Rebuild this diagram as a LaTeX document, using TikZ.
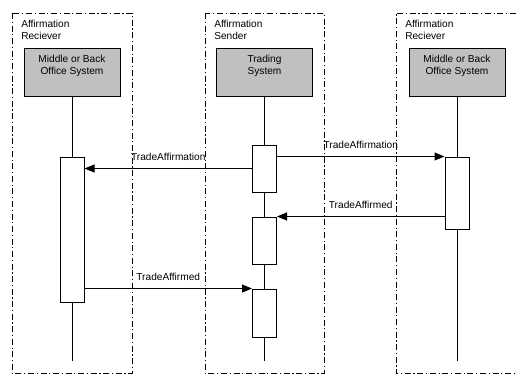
\documentclass[tikz,border=0pt]{standalone}
\usepackage{fontspec}
\setmainfont{Liberation Sans}
\usetikzlibrary{arrows.meta,calc}
\begin{document}
\begin{tikzpicture}[x=0.75pt,y=-0.75pt,
  every node/.style={font=\fontsize{7.6pt}{9pt}\selectfont, inner sep=0pt},
  framebox/.style={draw, line width=0.75pt, dash pattern=on 4.5pt off 2pt on 0.9pt off 2pt},
  sysbox/.style={draw, line width=0.75pt, fill={rgb,255:red,192;green,192;blue,192}, minimum width=72pt, minimum height=36pt},
  actbox/.style={draw, line width=0.75pt, fill=white, minimum width=18pt},
  life/.style={line width=0.75pt},
  msg/.style={line width=0.75pt, -{Triangle[length=7.5pt,width=6pt]}},
  lbl/.style={yshift=9pt},
  flabel/.style={align=left, anchor=north west}]
\useasboundingbox (0,0) rectangle (529,386);
% frames
\draw[framebox] (12,13) rectangle (132,373);
\draw[framebox] (205,13) rectangle (324,373);
\draw[framebox] (516,13) -- (396,13) -- (396,373) -- (516,373);
\node[flabel] (fl1) at (21,20) {Affirmation\\Reciever};
\node[flabel] (fl2) at (214,20) {Affirmation\\Sender};
\node[flabel] (fl3) at (405,20) {Affirmation\\Reciever};
% system boxes
\node[sysbox] (sL) at (72,72) {};
\node[sysbox] (sM) at (264.5,72) {};
\node[sysbox] (sR) at (457,72) {};
\node[align=center, anchor=north] (tL) at (72,55) {Middle or Back\\Office System};
\node[align=center, anchor=north] (tM) at (264.5,55) {Trading\\System};
\node[align=center, anchor=north] (tR) at (457,55) {Middle or Back\\Office System};
% lifeline ends
\coordinate (eL) at (72,361);
\coordinate (eM) at (264.5,361);
\coordinate (eR) at (457,361);
\draw[life] (sL.south) -- (eL);
\draw[life] (sM.south) -- (eM);
\draw[life] (sR.south) -- (eR);
% activations
\node[actbox, minimum height=108.75pt] (aL) at (72,229.5) {};
\node[actbox, minimum height=35.25pt] (aM1) at (264.5,168.5) {};
\node[actbox, minimum height=35.25pt] (aM2) at (264.5,240.5) {};
\node[actbox, minimum height=36pt] (aM3) at (264.5,313) {};
\node[actbox, minimum height=54pt] (aR) at (457,193) {};
% messages
\draw[msg] (aM1.west) -- (aM1.west -| aL.east) node[midway, lbl] {TradeAffirmation};
\draw[msg] (aM1.east |- aR.north west) -- (aR.north west) node[midway, lbl] {TradeAffirmation};
\draw[msg] (aR.west |- aM2.north east) -- (aM2.north east) node[midway, lbl] {TradeAffirmed};
\draw[msg] (aL.east |- aM3.north west) -- (aM3.north west) node[midway, lbl] {TradeAffirmed};
\end{tikzpicture}
\end{document}
